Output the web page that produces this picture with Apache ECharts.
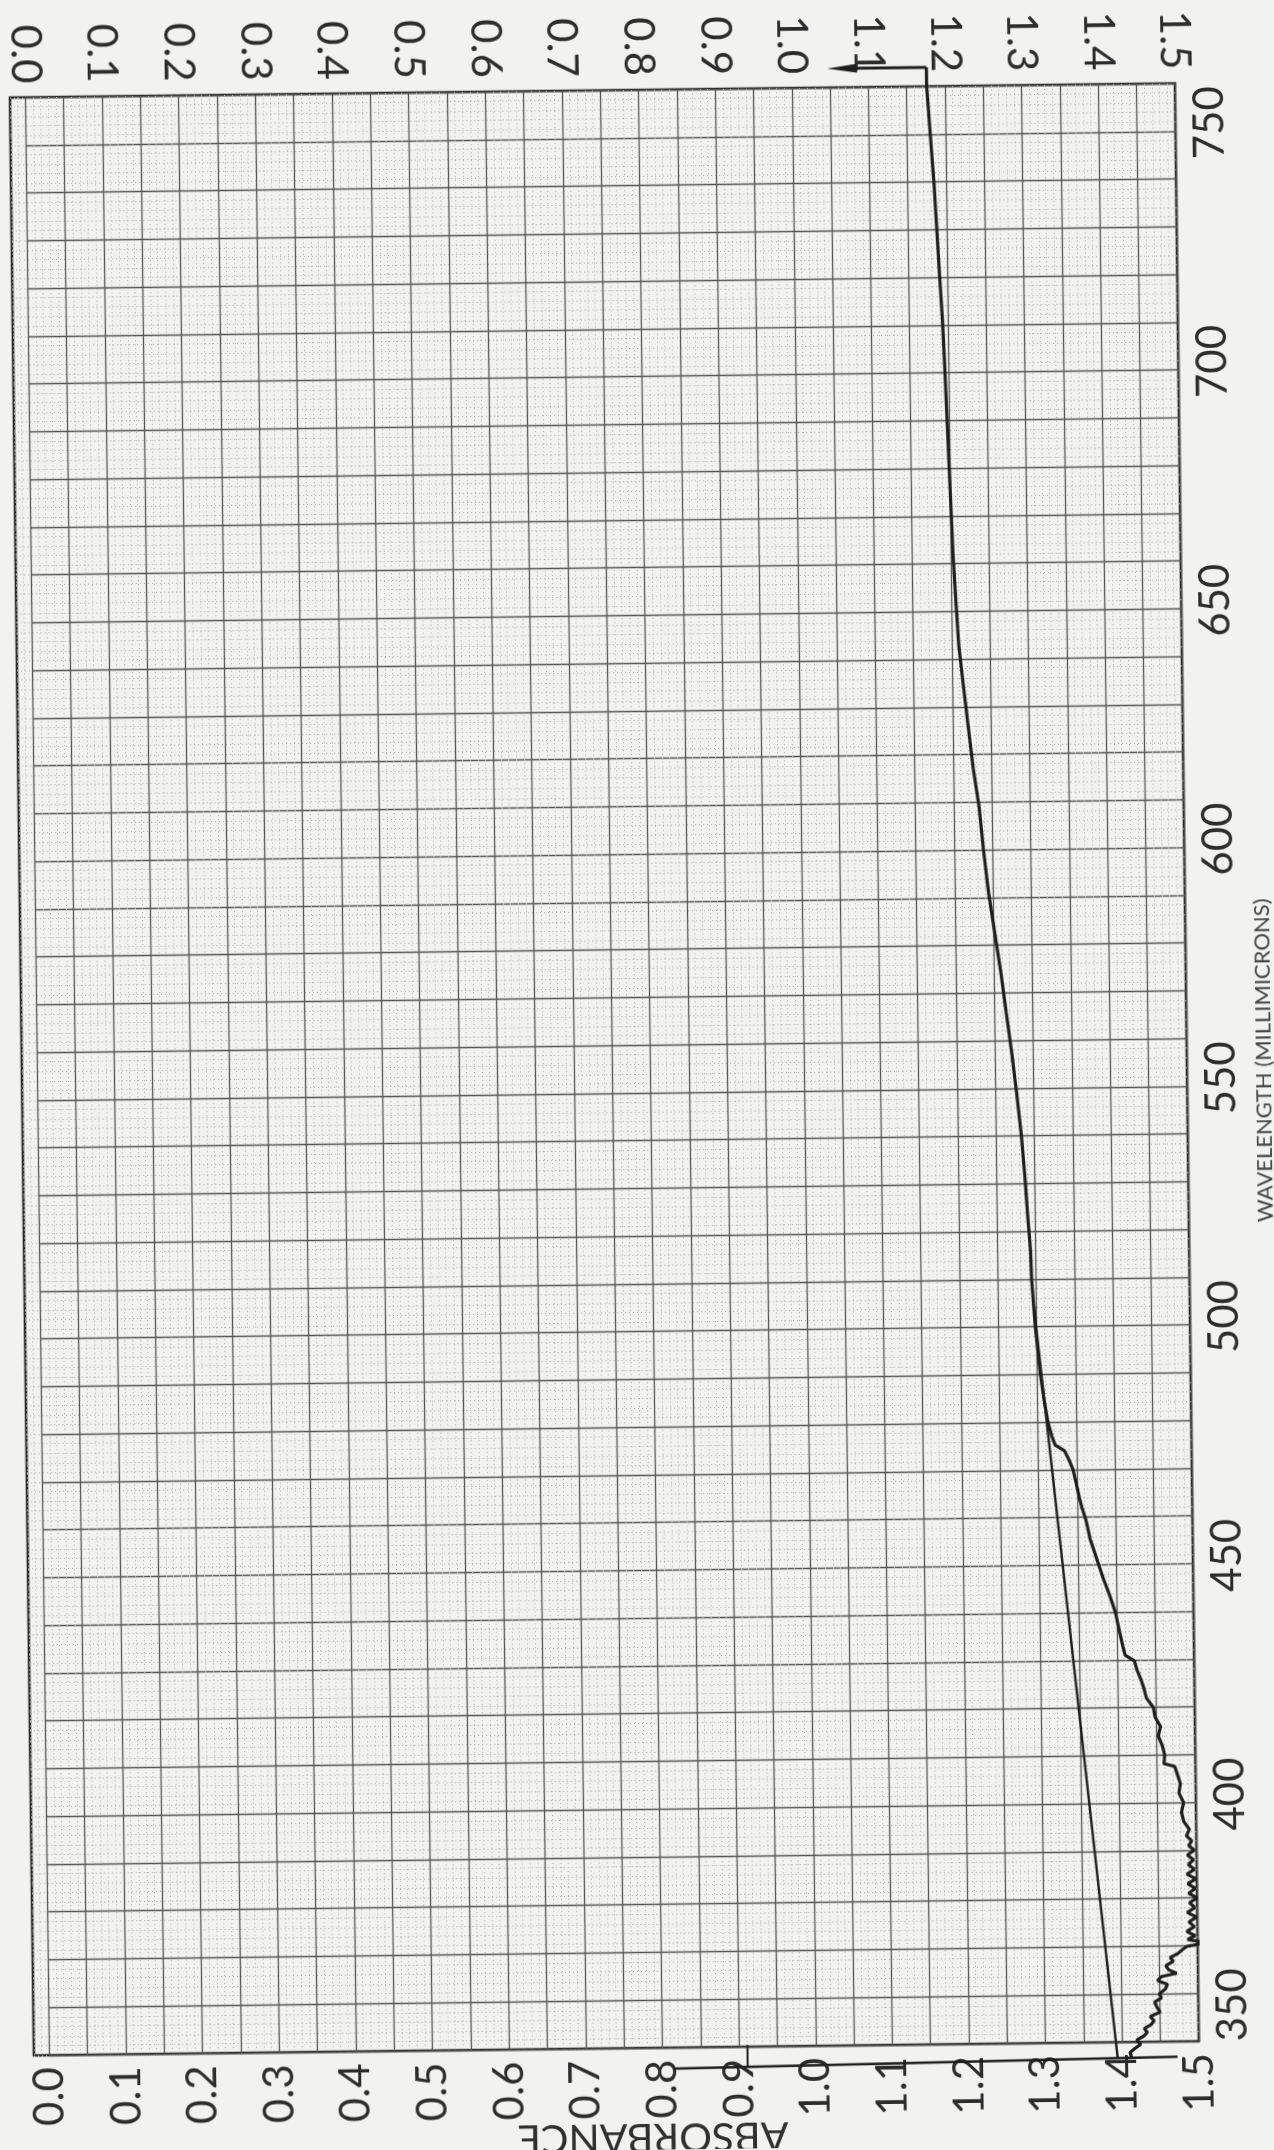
<!DOCTYPE html>
<html>
<head>
<meta charset="utf-8">
<script src="https://cdn.jsdelivr.net/npm/echarts@6/dist/echarts.min.js"></script>
<style>
html,body{margin:0;padding:0;background:#f2f2f0;overflow:hidden;}
#c{width:1274px;height:2150px;transform:rotate(-0.7deg);transform-origin:637px 1075px;}
</style>
</head>
<body>
<div id="c"></div>
<script>
// ---------- data ----------
const absTicks = ['0.0','0.1','0.2','0.3','0.4','0.5','0.6','0.7','0.8','0.9','1.0','1.1','1.2','1.3','1.4','1.5'];
const waveTicks = ['350','400','450','500','550','600','650','700','750'];

// recorded trace (wavelength in millimicrons, absorbance)
const traceWave = [346.8,347.8,348.6,349.5,350.4,351.2,352.0,352.8,353.6,354.4,355.3,356.2,357.2,358.3,359.2,360.0,361.0,362.0,362.8,363.6,364.3,365.0,365.9,366.8,367.6,368.4,369.2,369.9,370.6,371.3,372.1,373.0,374.0,375.0,376.0,377.0,378.0,379.0,380.0,381.0,382.0,383.0,384.0,385.0,386.0,387.0,388.0,389.0,390.0,391.0,392.0,393.0,394.4,396.0,398.0,400.0,402.0,404.0,406.0,407.6,408.2,410.0,412.0,414.0,416.0,418.0,420.0,422.0,424.0,426.0,428.0,429.8,431.0,433.0,436.0,440.0,443.5,447.0,450.0,453.0,455.5,458.0,460.0,462.0,464.0,467.0,470.0,472.0,474.0,475.2,477.0,480.0,485.0,490.0,495.0,500.0,505.0,510.0,516.0,523.0,531.0,540.0,548.0,557.0,566.0,574.0,583.0,591.0,600.0,609.0,617.0,626.0,635.0,643.0,652.0,662.0,672.0,682.0,692.0,702.0,711.0,720.0,730.0,740.0,750.0,760.0,764.0];
const traceAbs = [1.412,1.410,1.416,1.424,1.419,1.428,1.433,1.429,1.438,1.442,1.437,1.450,1.446,1.443,1.452,1.449,1.457,1.460,1.447,1.452,1.472,1.462,1.458,1.468,1.464,1.474,1.480,1.486,1.512,1.487,1.497,1.486,1.496,1.489,1.499,1.487,1.497,1.490,1.500,1.489,1.498,1.488,1.499,1.487,1.497,1.489,1.496,1.488,1.497,1.490,1.494,1.487,1.491,1.484,1.481,1.484,1.478,1.480,1.476,1.473,1.459,1.460,1.457,1.452,1.455,1.448,1.446,1.437,1.434,1.430,1.425,1.422,1.410,1.407,1.403,1.398,1.391,1.383,1.377,1.371,1.366,1.363,1.360,1.356,1.353,1.349,1.345,1.340,1.334,1.322,1.318,1.313,1.308,1.304,1.301,1.298,1.296,1.294,1.293,1.290,1.287,1.283,1.278,1.272,1.265,1.259,1.251,1.244,1.238,1.233,1.226,1.220,1.214,1.209,1.206,1.203,1.201,1.199,1.197,1.195,1.193,1.190,1.187,1.184,1.180,1.176,1.176];

// pen return stroke above the chart
const returnWave = [764.0, 764.0];
const returnAbs = [1.176, 1.066];

// ruled straight line
const ruleWave = [346.5, 505.0];
const ruleAbs = [1.394, 1.296];

// pen stroke below the chart
const bottomWave = [345.6, 346.8];
const bottomAbs = [0.815, 1.472];

// small pen tick near 0.9
const tickWave = [350.4, 345.7];
const tickAbs = [0.911, 0.911];

// ---------- layout ----------
const W = 1274, H = 2150;
const FRAME_L = 22, FRAME_R = 1187, TOP = 90, BOT = 2048;
const XMIN_FRAME = -0.02, XMAX = 1.5;
const PPU = (FRAME_R - FRAME_L) / (XMAX - XMIN_FRAME);
const DATA_L = FRAME_L + (0 - XMIN_FRAME) * PPU;

const zip = (xs, ys) => xs.map((x, i) => [x, ys[i]]);

const INK = '#1f1f1f';
const LABEL = '#2c2c2c';
const FONT = 'Lato, "Open Sans", sans-serif';

const fineLine = {show: true, lineStyle: {color: '#b4b4b4', width: 1, type: [1.2, 2.8]}};
const heavyLine = {show: true, lineStyle: {color: '#555555', width: 1.3}};

const hidden = {axisLine: {show: false}, axisTick: {show: false}, axisLabel: {show: false}};

const absFormatter = v => {
  const i = Math.round(v * 20);
  return i % 2 === 0 ? absTicks[i / 2] : '';
};
const waveFormatter = v => {
  const i = Math.round(v - 350);
  if (i % 50 !== 0) return '';
  const t = waveTicks[i / 50];
  return i === 0 ? '{low|' + t + '}' : '{n|' + t + '}';
};

const chart = echarts.init(document.getElementById('c'), null, {renderer: 'canvas', width: W, height: H});

const option = {
  animation: false,
  backgroundColor: '#f2f2f0',
  grid: [
    {left: FRAME_L, top: TOP, width: FRAME_R - FRAME_L, height: BOT - TOP,
     show: true, borderColor: '#262626', borderWidth: 2.6, backgroundColor: 'transparent',
     containLabel: false, outerBoundsMode: 'none'},
    {left: DATA_L, top: TOP, width: FRAME_R - DATA_L, height: BOT - TOP,
     containLabel: false, outerBoundsMode: 'none'}
  ],
  xAxis: [
    Object.assign({type: 'value', gridIndex: 0, min: XMIN_FRAME, max: XMAX, interval: 0.01,
      splitLine: fineLine}, hidden),
    {type: 'value', gridIndex: 1, position: 'bottom', min: 0, max: XMAX, interval: 0.05,
      axisLine: {show: false}, axisTick: {show: false}, splitLine: heavyLine,
      axisLabel: {rotate: 90, margin: 12, formatter: absFormatter, color: LABEL,
        fontFamily: FONT, fontSize: 42}},
    {type: 'value', gridIndex: 1, position: 'top', min: 0, max: XMAX, interval: 0.05,
      axisLine: {show: false}, axisTick: {show: false}, splitLine: {show: false},
      axisLabel: {rotate: 90, margin: 14, formatter: absFormatter, color: LABEL,
        fontFamily: FONT, fontSize: 42}}
  ],
  yAxis: [
    Object.assign({type: 'value', gridIndex: 0, min: 350, max: 760, interval: 2,
      splitLine: fineLine}, hidden),
    {type: 'value', gridIndex: 1, position: 'right', min: 350, max: 760, interval: 10,
      axisLine: {show: false}, axisTick: {show: false}, splitLine: heavyLine,
      axisLabel: {rotate: 90, margin: 13, formatter: waveFormatter, color: LABEL,
        fontFamily: FONT, fontSize: 42,
        rich: {
          n: {fontFamily: FONT, fontSize: 42, color: LABEL, padding: [0, 0, 0, 16]},
          low: {fontFamily: FONT, fontSize: 42, color: LABEL, padding: [0, 0, 0, 72]}
        }}}
  ],
  graphic: [
    {type: 'text', x: 1264, y: 1068, rotation: Math.PI / 2,
     style: {text: 'WAVELENGTH (MILLIMICRONS)', fontFamily: FONT, fontSize: 22,
       fill: '#444', textAlign: 'center', textVerticalAlign: 'middle'}},
    {type: 'text', x: 640, y: 2137, rotation: Math.PI,
     style: {text: 'ABSORBANCE', fontFamily: FONT, fontSize: 41,
       fill: '#303030', textAlign: 'center', textVerticalAlign: 'middle'}}
  ],
  series: [
    {name: 'trace', type: 'line', xAxisIndex: 1, yAxisIndex: 1, data: zip(traceAbs, traceWave),
     symbol: 'none', clip: false, lineStyle: {color: INK, width: 3.2}, z: 5},
    {name: 'return', type: 'line', xAxisIndex: 1, yAxisIndex: 1,
     data: [zip(returnAbs, returnWave)[0],
            {value: zip(returnAbs, returnWave)[1], symbol: 'triangle', symbolSize: [9, 30], symbolRotate: 90}],
     symbol: 'none', showSymbol: true, clip: false,
     itemStyle: {color: INK}, lineStyle: {color: INK, width: 3}, z: 5},
    {name: 'rule', type: 'line', xAxisIndex: 1, yAxisIndex: 1, data: zip(ruleAbs, ruleWave),
     symbol: 'none', clip: false, lineStyle: {color: INK, width: 2.4}, z: 5},
    {name: 'bottom', type: 'line', xAxisIndex: 1, yAxisIndex: 1, data: zip(bottomAbs, bottomWave),
     symbol: 'none', clip: false, lineStyle: {color: INK, width: 2.6}, z: 5},
    {name: 'tick', type: 'line', xAxisIndex: 1, yAxisIndex: 1, data: zip(tickAbs, tickWave),
     symbol: 'none', clip: false, lineStyle: {color: INK, width: 2}, z: 5}
  ]
};
chart.setOption(option);
</script>
</body>
</html>
